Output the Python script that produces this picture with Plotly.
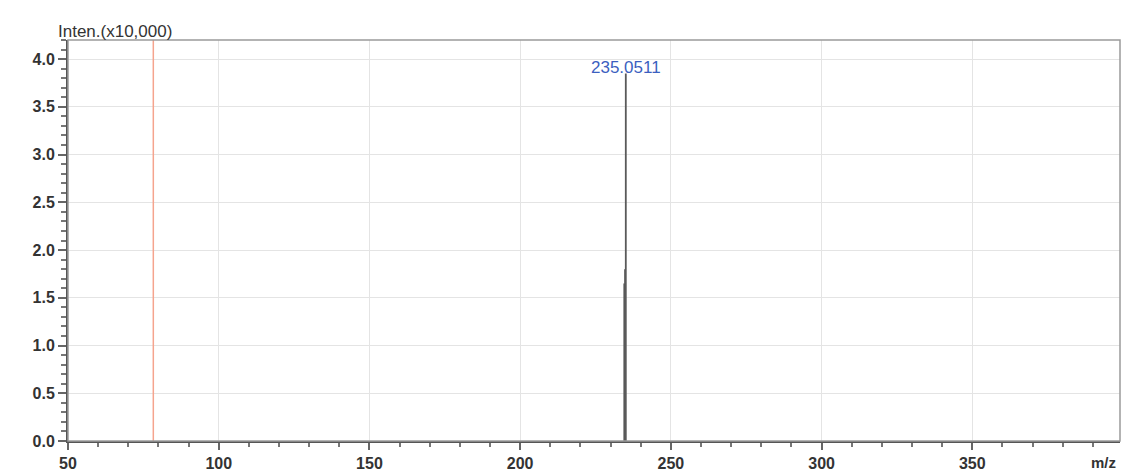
import plotly.graph_objects as go

# Data
peak_mz = [234.55, 234.8, 235.05]
peak_int = [1.65, 1.80, 3.85]          # intensity in units of 10,000
label_mz = 235.05
label_text = "235.0511"
marker_mz = 78.3
x_ticks = [50, 100, 150, 200, 250, 300, 350]
y_ticks = [0.0, 0.5, 1.0, 1.5, 2.0, 2.5, 3.0, 3.5, 4.0]

xs, ys = [], []
for m, i in zip(peak_mz, peak_int):
    xs += [m, m, None]
    ys += [0, i, None]

fig = go.Figure()
fig.add_trace(go.Scatter(x=[marker_mz, marker_mz], y=[0, 4.2], mode="lines",
                         line=dict(color="#f5a48e", width=1.5), hoverinfo="skip"))
fig.add_trace(go.Scatter(x=xs, y=ys, mode="lines",
                         line=dict(color="#5a5a5a", width=1.8)))

fig.add_annotation(x=label_mz, y=3.85, text=label_text, showarrow=False,
                   yanchor="bottom", yshift=-6,
                   font=dict(family="Liberation Sans", size=17, color="#3c5fc0"))
fig.add_annotation(xref="paper", yref="paper", x=-0.011, y=1.0, text="Inten.(x10,000)",
                   showarrow=False, xanchor="left", yanchor="bottom", yshift=-3,
                   font=dict(family="Liberation Sans", size=17, color="#333333"))
fig.add_annotation(xref="paper", yref="paper", x=0.971, y=0, text="m/z",
                   showarrow=False, xanchor="left", yanchor="top", yshift=-11,
                   font=dict(family="Liberation Sans", size=15, color="#333333", weight="bold"))

fig.add_shape(type="rect", xref="paper", yref="paper", x0=0, y0=0, x1=1, y1=1,
              line=dict(color="#9a9a9a", width=1.5), layer="above")

fig.update_layout(
    width=1123, height=472,
    margin=dict(l=68, r=3, t=40, b=31),
    paper_bgcolor="white", plot_bgcolor="white",
    showlegend=False,
    font=dict(family="Liberation Sans", color="#333333"),
    xaxis=dict(range=[50, 399], tickvals=x_ticks, ticks="outside", ticklen=7,
               tickcolor="#666666", tickwidth=1.5, automargin=False,
               showline=True, linecolor="#555555", linewidth=2,
               showgrid=True, gridcolor="#e4e4e4", gridwidth=1, zeroline=False,
               tickfont=dict(family="Liberation Sans", size=16, color="#333333", weight="bold"),
               minor=dict(dtick=10, tick0=50, ticks="outside", ticklen=4, tickcolor="#777777", showgrid=False)),
    yaxis=dict(range=[0, 4.2], tickvals=y_ticks, tickformat=".1f", ticks="outside", ticklen=8,
               tickcolor="#666666", tickwidth=1.5, automargin=False,
               showline=True, linecolor="#555555", linewidth=2,
               showgrid=True, gridcolor="#e4e4e4", gridwidth=1, zeroline=False,
               tickfont=dict(family="Liberation Sans", size=16, color="#333333", weight="bold"),
               minor=dict(dtick=0.1, ticks="outside", ticklen=5, tickcolor="#777777", showgrid=False)),
)

fig.write_html("out.html")
